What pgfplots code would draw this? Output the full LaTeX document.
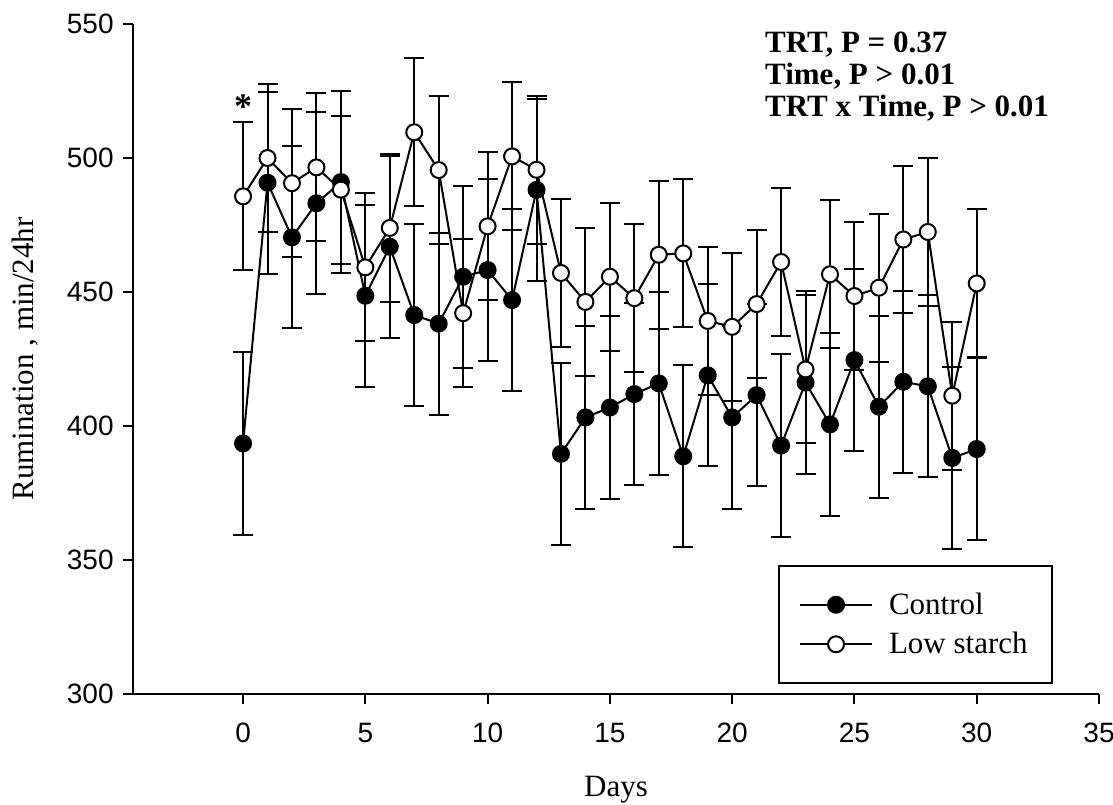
\documentclass[border=0pt]{standalone}
\usepackage{pgfplots}
\pgfplotsset{compat=1.18}
\usepackage{pgfplotstable}
\usepackage{fontspec}
\setmainfont{Liberation Serif}
\newfontfamily\arialf{Liberation Sans}

\pgfplotstableread{
x C CE L LE
0 393.5 34 485.7 27.6
1 490.8 34 500.0 27.6
2 470.4 34 490.6 27.6
3 483.1 34 496.5 27.6
4 491.0 34 488.2 27.6
5 448.6 34 459.2 27.6
6 466.9 34 473.9 27.6
7 441.4 34 509.6 27.6
8 438.2 34 495.5 27.6
9 455.7 34 442.1 27.6
10 458.2 34 474.5 27.6
11 447.0 34 500.6 27.6
12 488.1 34 495.6 27.6
13 389.6 34 457.1 27.6
14 403.2 34 446.3 27.6
15 406.9 34 455.7 27.6
16 411.9 34 447.7 27.6
17 415.9 34 463.9 27.6
18 388.7 34 464.4 27.6
19 418.9 34 439.2 27.6
20 403.2 34 437.0 27.6
21 411.5 34 445.5 27.6
22 392.7 34 461.2 27.6
23 416.2 34 421.1 27.6
24 400.6 34 456.6 27.6
25 424.6 34 448.5 27.6
26 407.2 34 451.6 27.6
27 416.5 34 469.6 27.6
28 414.8 34 472.4 27.6
29 388.1 34 411.3 27.6
30 391.4 34 453.2 27.6
}\datatable

\begin{document}
\begin{tikzpicture}
\path[use as bounding box] (-66.5pt,-55pt) rectangle (490pt,347pt);
\begin{axis}[
  at={(0,0)}, anchor=south west,
  scale only axis, width=483pt, height=335pt,
  xmin=-4.5, xmax=35, ymin=300, ymax=550,
  xtick={0,5,...,35}, ytick={300,350,...,550},
  axis lines=left, axis line style={-, line width=1pt},
  tick align=outside, major tick length=5pt,
  tick style={line width=1pt, black},
  /pgf/number format/assume math mode=true,
  ticklabel style={font=\arialf\fontsize{14}{16}\selectfont},
  xticklabel style={anchor=north, inner sep=0pt, yshift=-9.5pt},
  yticklabel style={anchor=east, inner sep=0pt, xshift=-4.5pt},
  xlabel={Days}, ylabel={Rumination , min/24hr},
  every axis x label/.style={at={(axis description cs:0.5,-0.1537)}, anchor=base, font=\fontsize{15.5}{17}\selectfont},
  every axis y label/.style={at={(axis description cs:-0.1035,0.5)}, rotate=90, anchor=base, font=\fontsize{15.5}{17}\selectfont},
  legend style={at={(axis description cs:0.952,0.0149)}, anchor=south east,
    draw=black, line width=1pt, font=\fontsize{15.5}{17}\selectfont,
    inner xsep=10pt, inner ysep=11.25pt, row sep=3.5pt,
    nodes={inner sep=2pt},
    /tikz/every odd column/.append style={column sep=6pt}},
  legend cell align=left,
  legend image code/.code={\draw[#1, mark repeat=2, mark phase=2] plot coordinates {(0pt,0pt) (18pt,0pt) (36pt,0pt)};},
  clip=false,
]
\addplot[black, line width=1pt, mark=*, mark size=4pt, mark options={fill=black, line width=1pt},
  error bars/.cd, y dir=both, y explicit,
  error bar style={line width=1pt, black},
  error mark options={rotate=90, mark size=5pt, line width=1pt, black}]
  table[x=x, y=C, y error=CE] {\datatable};
\addlegendentry{Control}
\addplot[black, line width=1pt, mark=*, mark size=4pt, mark options={fill=white, line width=1pt},
  error bars/.cd, y dir=both, y explicit,
  error bar style={line width=1pt, black},
  error mark options={rotate=90, mark size=5pt, line width=1pt, black}]
  table[x=x, y=L, y error=LE] {\datatable};
\addlegendentry{Low starch}
\node[font=\bfseries\fontsize{18}{20}\selectfont] at (axis cs:0,519) {*};
\node[anchor=base west, inner sep=0pt, font=\bfseries\fontsize{15.5}{17}\selectfont] at (axis description cs:0.654,0.9582) {TRT, P = 0.37};
\node[anchor=base west, inner sep=0pt, font=\bfseries\fontsize{15.5}{17}\selectfont] at (axis description cs:0.654,0.9104) {Time, P > 0.01};
\node[anchor=base west, inner sep=0pt, font=\bfseries\fontsize{15.5}{17}\selectfont] at (axis description cs:0.654,0.8612) {TRT x Time, P > 0.01};
\end{axis}
\end{tikzpicture}
\end{document}
